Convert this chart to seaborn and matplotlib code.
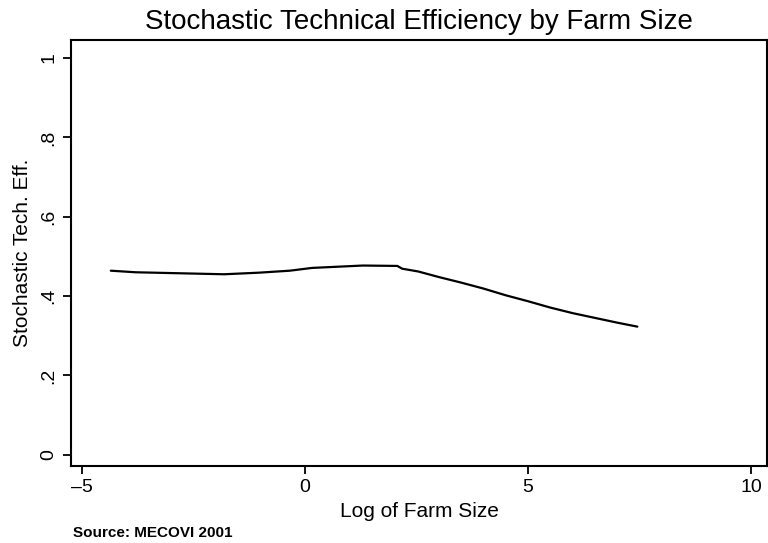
import numpy as np
import pandas as pd
import matplotlib
matplotlib.use("Agg")
import matplotlib.pyplot as plt
import seaborn as sns

# Data (lowess-type smooth)
log_farm_size = [-4.35, -3.79, -1.81, -1.03, -0.34, 0.16, 1.30, 2.07, 2.18, 2.54,
                 3.0, 3.5, 4.0, 4.5, 5.0, 5.5, 6.0, 6.5, 7.0, 7.45]
tech_eff = [0.464, 0.460, 0.455, 0.459, 0.464, 0.471, 0.477, 0.476, 0.469, 0.462,
            0.448, 0.434, 0.419, 0.402, 0.387, 0.371, 0.357, 0.345, 0.333, 0.323]

x_ticks = [-5, 0, 5, 10]
x_tick_labels = ["\u20135", "0", "5", "10"]
y_ticks = [0, 0.2, 0.4, 0.6, 0.8, 1.0]
y_tick_labels = ["0", ".2", ".4", ".6", ".8", "1"]

df = pd.DataFrame({"log_size": log_farm_size, "eff": tech_eff})

sns.set_theme(style="ticks")
plt.rcParams['font.family'] = ['Liberation Sans', 'DejaVu Sans']
plt.rcParams['text.color'] = 'black'
plt.rcParams['axes.labelcolor'] = 'black'

fig = plt.figure(figsize=(7.68, 5.43), dpi=100)
ax = fig.add_axes([0.092, 0.142, 0.907, 0.784])

sns.lineplot(data=df, x="log_size", y="eff", color="black", linewidth=1.6, ax=ax)

ax.set_xlim(-5.25, 10.36)
ax.set_ylim(-0.028, 1.045)
ax.set_xticks(x_ticks)
ax.set_xticklabels(x_tick_labels)
ax.set_yticks(y_ticks)
ax.set_yticklabels(y_tick_labels, rotation=90, va="center")
ax.tick_params(axis="both", direction="out", length=6, width=1.3, labelsize=14, colors="black")

for s in ax.spines.values():
    s.set_linewidth(1.5)
    s.set_color("black")
    s.set_visible(True)

ax.set_xlabel("Log of Farm Size", fontsize=15, labelpad=4)
ax.set_ylabel("Stochastic Tech. Eff.", fontsize=15, labelpad=6)
ax.set_title("Stochastic Technical Efficiency by Farm Size", fontsize=20, pad=8)

fig.text(0.095, 0.018, "Source: MECOVI 2001", fontsize=11, fontweight="bold",
         ha="left", va="center")

fig.savefig("out.png", dpi=100)
